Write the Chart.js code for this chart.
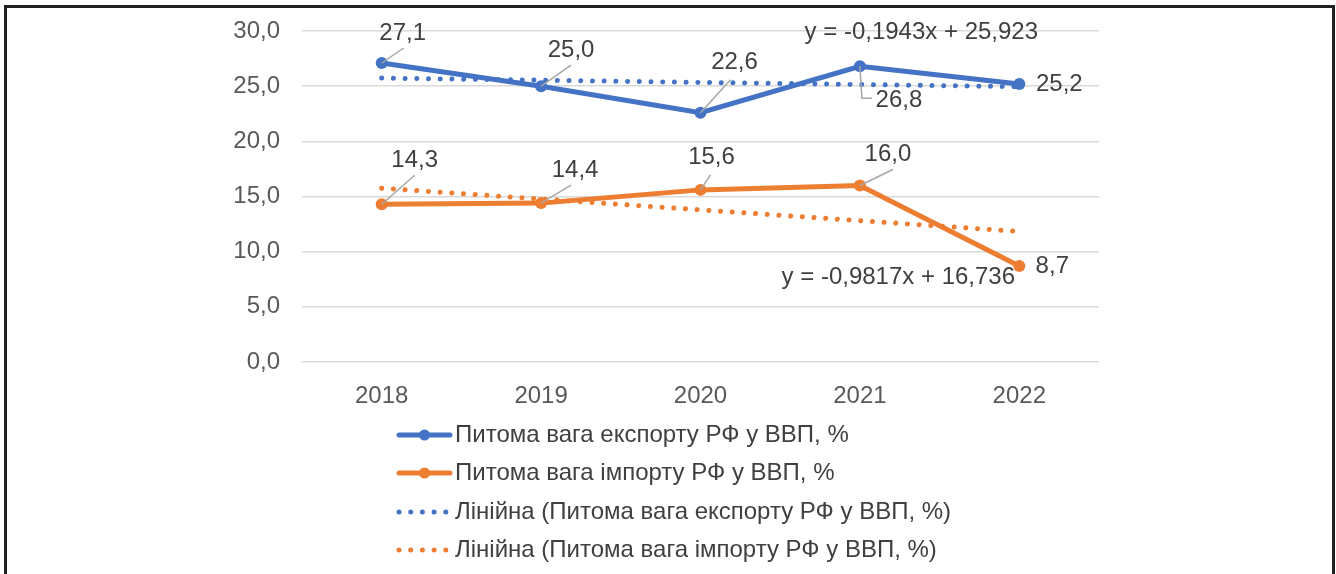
<!DOCTYPE html>
<html>
<head>
<meta charset="utf-8">
<script src="https://cdn.jsdelivr.net/npm/chart.js@4"></script>
<style>
  html, body { margin: 0; padding: 0; background: #fff; overflow: hidden; }
  #wrap { position: relative; width: 1336px; height: 574px; }
  #frame {
    position: absolute; left: 4px; top: 5px; width: 1331px; height: 700px;
    box-sizing: border-box; border: 3px solid #231f20; pointer-events: none;
  }
  canvas { position: absolute; left: 0; top: 0; }
</style>
</head>
<body>
<div id="wrap">
  <canvas id="chart" width="1336" height="574"></canvas>
  <div id="frame"></div>
</div>
<script>
// Data
const years = ['2018', '2019', '2020', '2021', '2022'];
const exportShare = [27.1, 25.0, 22.6, 26.8, 25.2];
const importShare = [14.3, 14.4, 15.6, 16.0, 8.7];
// Excel linear trendlines (values at each year)
const exportTrend = [25.73, 25.54, 25.34, 25.15, 24.95];
const importTrend = [15.75, 14.77, 13.79, 12.81, 11.83];
const seriesNames = [
  'Питома вага експорту РФ у ВВП, %',
  'Питома вага імпорту РФ у ВВП, %',
  'Лінійна (Питома вага експорту РФ у ВВП, %)',
  'Лінійна (Питома вага імпорту РФ у ВВП, %)'
];
const trendEquations = ['y = -0,1943x + 25,923', 'y = -0,9817x + 16,736'];

const BLUE = '#4472C4';
const ORANGE = '#ED7D31';
const FONT = '"Liberation Sans", Arial, sans-serif';

// Where each value label sits relative to its point, plus leader line path
const labelPlacement = [
  [
    { dx: 21, dy: -30, leader: [[22, -15]] },
    { dx: 30, dy: -36, leader: [[30, -21]] },
    { dx: 34, dy: -50, leader: [[30, -33]] },
    { dx: 39, dy: 34, leader: [[2, 32], [12, 32]] },
    { dx: 40, dy: 0, leader: null }
  ],
  [
    { dx: 33, dy: -44, leader: [[33, -29]] },
    { dx: 34, dy: -33, leader: [[30, -18]] },
    { dx: 11, dy: -33, leader: [[10, -15]] },
    { dx: 28, dy: -31, leader: [[33, -16]] },
    { dx: 33, dy: 0, leader: null }
  ]
];
// equation position relative to the last trendline point
const equationPlacement = [{ dx: -98, dy: -54 }, { dx: -121, dy: 46 }];

function fmt(v) {
  return v.toFixed(1).replace('.', ',');
}

const labelPlugin = {
  id: 'valueLabels',
  afterDatasetsDraw(chart) {
    const ctx = chart.ctx;
    ctx.save();
    ctx.font = '24px ' + FONT;
    ctx.textAlign = 'center';
    ctx.textBaseline = 'middle';
    [0, 1].forEach(di => {
      const meta = chart.getDatasetMeta(di);
      const values = chart.data.datasets[di].data;
      meta.data.forEach((pt, i) => {
        const pl = labelPlacement[di][i];
        if (pl.leader) {
          ctx.strokeStyle = '#a6a6a6';
          ctx.lineWidth = 1.5;
          ctx.beginPath();
          ctx.moveTo(pt.x, pt.y);
          pl.leader.forEach(p => ctx.lineTo(pt.x + p[0], pt.y + p[1]));
          ctx.stroke();
        }
        ctx.fillStyle = '#404040';
        ctx.fillText(fmt(values[i]), pt.x + pl.dx, pt.y + pl.dy);
      });
    });
    // trendline equations
    [2, 3].forEach((di, k) => {
      const meta = chart.getDatasetMeta(di);
      const last = meta.data[meta.data.length - 1];
      ctx.fillStyle = '#404040';
      ctx.fillText(trendEquations[k], last.x + equationPlacement[k].dx, last.y + equationPlacement[k].dy);
    });
    ctx.restore();
  }
};

const legendPlugin = {
  id: 'sideLegend',
  afterDraw(chart) {
    const ctx = chart.ctx;
    const area = chart.chartArea;
    const x0 = 397, x1 = 452, textX = 455;
    const rowY = [73, 111, 150, 188].map(o => area.bottom + o);
    ctx.save();
    chart.data.datasets.forEach((ds, i) => {
      const y = rowY[i];
      if (i < 2) {
        ctx.strokeStyle = ds.borderColor;
        ctx.lineWidth = 5;
        ctx.lineCap = 'round';
        ctx.beginPath();
        ctx.moveTo(x0 + 2, y);
        ctx.lineTo(x1 - 2, y);
        ctx.stroke();
        ctx.fillStyle = ds.borderColor;
        ctx.beginPath();
        ctx.arc((x0 + x1) / 2, y, 5.5, 0, Math.PI * 2);
        ctx.fill();
      } else {
        ctx.fillStyle = ds.borderColor;
        for (let d = 0; d < 5; d++) {
          ctx.beginPath();
          ctx.arc(x0 + 2 + d * 11.7, y, 2.5, 0, Math.PI * 2);
          ctx.fill();
        }
      }
      ctx.fillStyle = '#404040';
      ctx.font = '24px ' + FONT;
      ctx.textAlign = 'left';
      ctx.textBaseline = 'middle';
      ctx.fillText(ds.label, textX, y);
    });
    ctx.restore();
  }
};

new Chart(document.getElementById('chart'), {
  type: 'line',
  data: {
    labels: years,
    datasets: [
      {
        label: seriesNames[0], data: exportShare,
        borderColor: BLUE, backgroundColor: BLUE,
        borderWidth: 5, pointRadius: 6, pointBackgroundColor: BLUE, pointBorderWidth: 0,
        tension: 0, order: 1
      },
      {
        label: seriesNames[1], data: importShare,
        borderColor: ORANGE, backgroundColor: ORANGE,
        borderWidth: 5, pointRadius: 6, pointBackgroundColor: ORANGE, pointBorderWidth: 0,
        tension: 0, order: 2
      },
      {
        label: seriesNames[2], data: exportTrend,
        borderColor: BLUE, borderWidth: 5, borderDash: [0.01, 11.7], borderCapStyle: 'round',
        pointRadius: 0, tension: 0, order: 3
      },
      {
        label: seriesNames[3], data: importTrend,
        borderColor: ORANGE, borderWidth: 5, borderDash: [0.01, 11.7], borderCapStyle: 'round',
        pointRadius: 0, tension: 0, order: 4
      }
    ]
  },
  options: {
    responsive: false,
    devicePixelRatio: 1,
    animation: false,
    layout: { padding: { top: 31, right: 237, bottom: 0, left: 0 } },
    plugins: {
      legend: { display: false },
      tooltip: { enabled: false }
    },
    scales: {
      x: {
        offset: true,
        grid: { display: false },
        border: { display: false },
        ticks: { color: '#595959', font: { family: FONT, size: 24 }, padding: 12 },
        afterFit(scale) { scale.height = 212; }
      },
      y: {
        min: 0, max: 30,
        grid: { color: '#d9d9d9', lineWidth: 1.5, drawTicks: true, tickLength: 22, tickColor: 'rgba(0,0,0,0)' },
        border: { display: false },
        ticks: {
          stepSize: 5, color: '#595959', font: { family: FONT, size: 24 }, padding: 0,
          callback: v => fmt(v)
        },
        afterFit(scale) { scale.width = 302; }
      }
    }
  },
  plugins: [labelPlugin, legendPlugin]
});
</script>
</body>
</html>
